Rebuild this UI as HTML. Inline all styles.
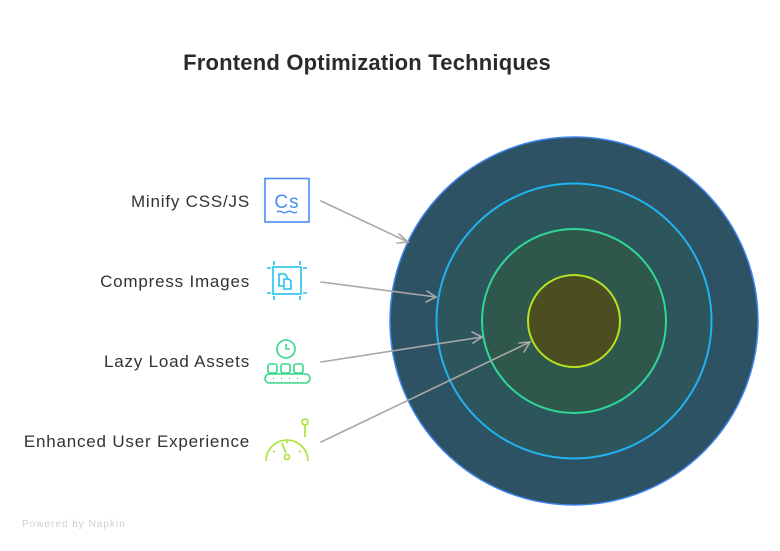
<!DOCTYPE html>
<html>
<head>
<meta charset="utf-8">
<style>
  html,body{margin:0;padding:0;background:#fff;}
  body{width:780px;height:551px;overflow:hidden;position:relative;}
  svg{position:absolute;left:0;top:0;}
  text{font-family:"Liberation Sans",sans-serif;}
</style>
</head>
<body>
<svg width="780" height="551" viewBox="0 0 780 551" xmlns="http://www.w3.org/2000/svg">
  <rect width="780" height="551" fill="#ffffff"/>
  <!-- Title -->
  <text x="367" y="70" text-anchor="middle" font-size="22" font-weight="bold" fill="#2a2a2a" letter-spacing="0.2">Frontend Optimization Techniques</text>

  <!-- Concentric circles -->
  <circle cx="574" cy="321" r="184" fill="#2d5263" stroke="#3f86f2" stroke-width="1.5"/>
  <circle cx="574" cy="321" r="137.5" fill="#2c555c" stroke="#22b2f0" stroke-width="2"/>
  <circle cx="574" cy="321" r="92" fill="#30574c" stroke="#2fd69a" stroke-width="2"/>
  <circle cx="574" cy="321" r="46" fill="#4d4d22" stroke="#b3e322" stroke-width="2"/>

  <!-- Labels -->
  <g font-size="17" fill="#333333" text-anchor="end" letter-spacing="0.8">
    <text x="250" y="207">Minify CSS/JS</text>
    <text x="250" y="287">Compress Images</text>
    <text x="250" y="367">Lazy Load Assets</text>
    <text x="250" y="447">Enhanced User Experience</text>
  </g>

  <!-- Icon 1: Minify CSS/JS -->
  <g stroke="#4a8cf7" fill="none" stroke-width="1.6">
    <rect x="265" y="178.5" width="44" height="43.5"/>
    <path d="M277 212 q2.5 -1.5 5 0 t5 0 t5 0 t5 0" />
  </g>
  <text x="287" y="208" text-anchor="middle" font-size="19" fill="#4a8cf7" letter-spacing="1">Cs</text>

  <!-- Icon 2: Compress Images -->
  <g stroke="#22c3ec" fill="none" stroke-width="1.6">
    <rect x="273" y="267" width="28" height="27"/>
    <path d="M267 268 h4 M303 268 h4 M267 293 h4 M303 293 h4"/>
    <path d="M274 261 v4 M300 261 v4 M274 296 v4 M300 296 v4"/>
    <path d="M279 274 h6 l2 3 v9 h-8 z"/>
    <path d="M284 279 h5 l2 2 v8 h-7 z" fill="#fff"/>
  </g>

  <!-- Icon 3: Lazy Load -->
  <g stroke="#36d88a" fill="none" stroke-width="1.6">
    <circle cx="286" cy="349" r="9"/>
    <path d="M286 344 v5 h4"/>
    <rect x="268" y="364" width="9" height="9" rx="2"/>
    <rect x="281" y="364" width="9" height="9" rx="2"/>
    <rect x="294" y="364" width="9" height="9" rx="2"/>
    <rect x="265" y="374" width="45" height="9" rx="4.5"/>
    <path d="M273 378.5 h1 M281 378.5 h1 M289 378.5 h1 M297 378.5 h1"/>
  </g>

  <!-- Icon 4: Enhanced UX -->
  <g stroke="#a6e22e" fill="none" stroke-width="1.6">
    <path d="M266 461 A21 21 0 0 1 308 461"/>
    <circle cx="305" cy="422" r="3"/>
    <path d="M305 425 v12"/>
    <path d="M282 443 l4 10"/>
    <circle cx="287" cy="457" r="2.5"/>
    <path d="M273 451 l2 1 M299 452 l2 -1 M287 441 v2"/>
  </g>

  <!-- Arrows -->
  <g stroke="#a8a8a8" stroke-width="1.6" fill="none" stroke-linecap="round">
    <path d="M321 201 L408 242"/>
    <path d="M399 234 L408 242 L397 243"/>
    <path d="M321 282 L436 297"/>
    <path d="M427 291 L436 297 L426 302"/>
    <path d="M321 362 L482 337"/>
    <path d="M472 332 L482 337 L473 343"/>
    <path d="M321 442 L530 342"/>
    <path d="M519 343 L530 342 L524 352"/>
  </g>

  <!-- Footer -->
  <text x="22" y="527" font-size="10" fill="#cfcfcf" letter-spacing="1">Powered by Napkin</text>
</svg>
</body>
</html>
